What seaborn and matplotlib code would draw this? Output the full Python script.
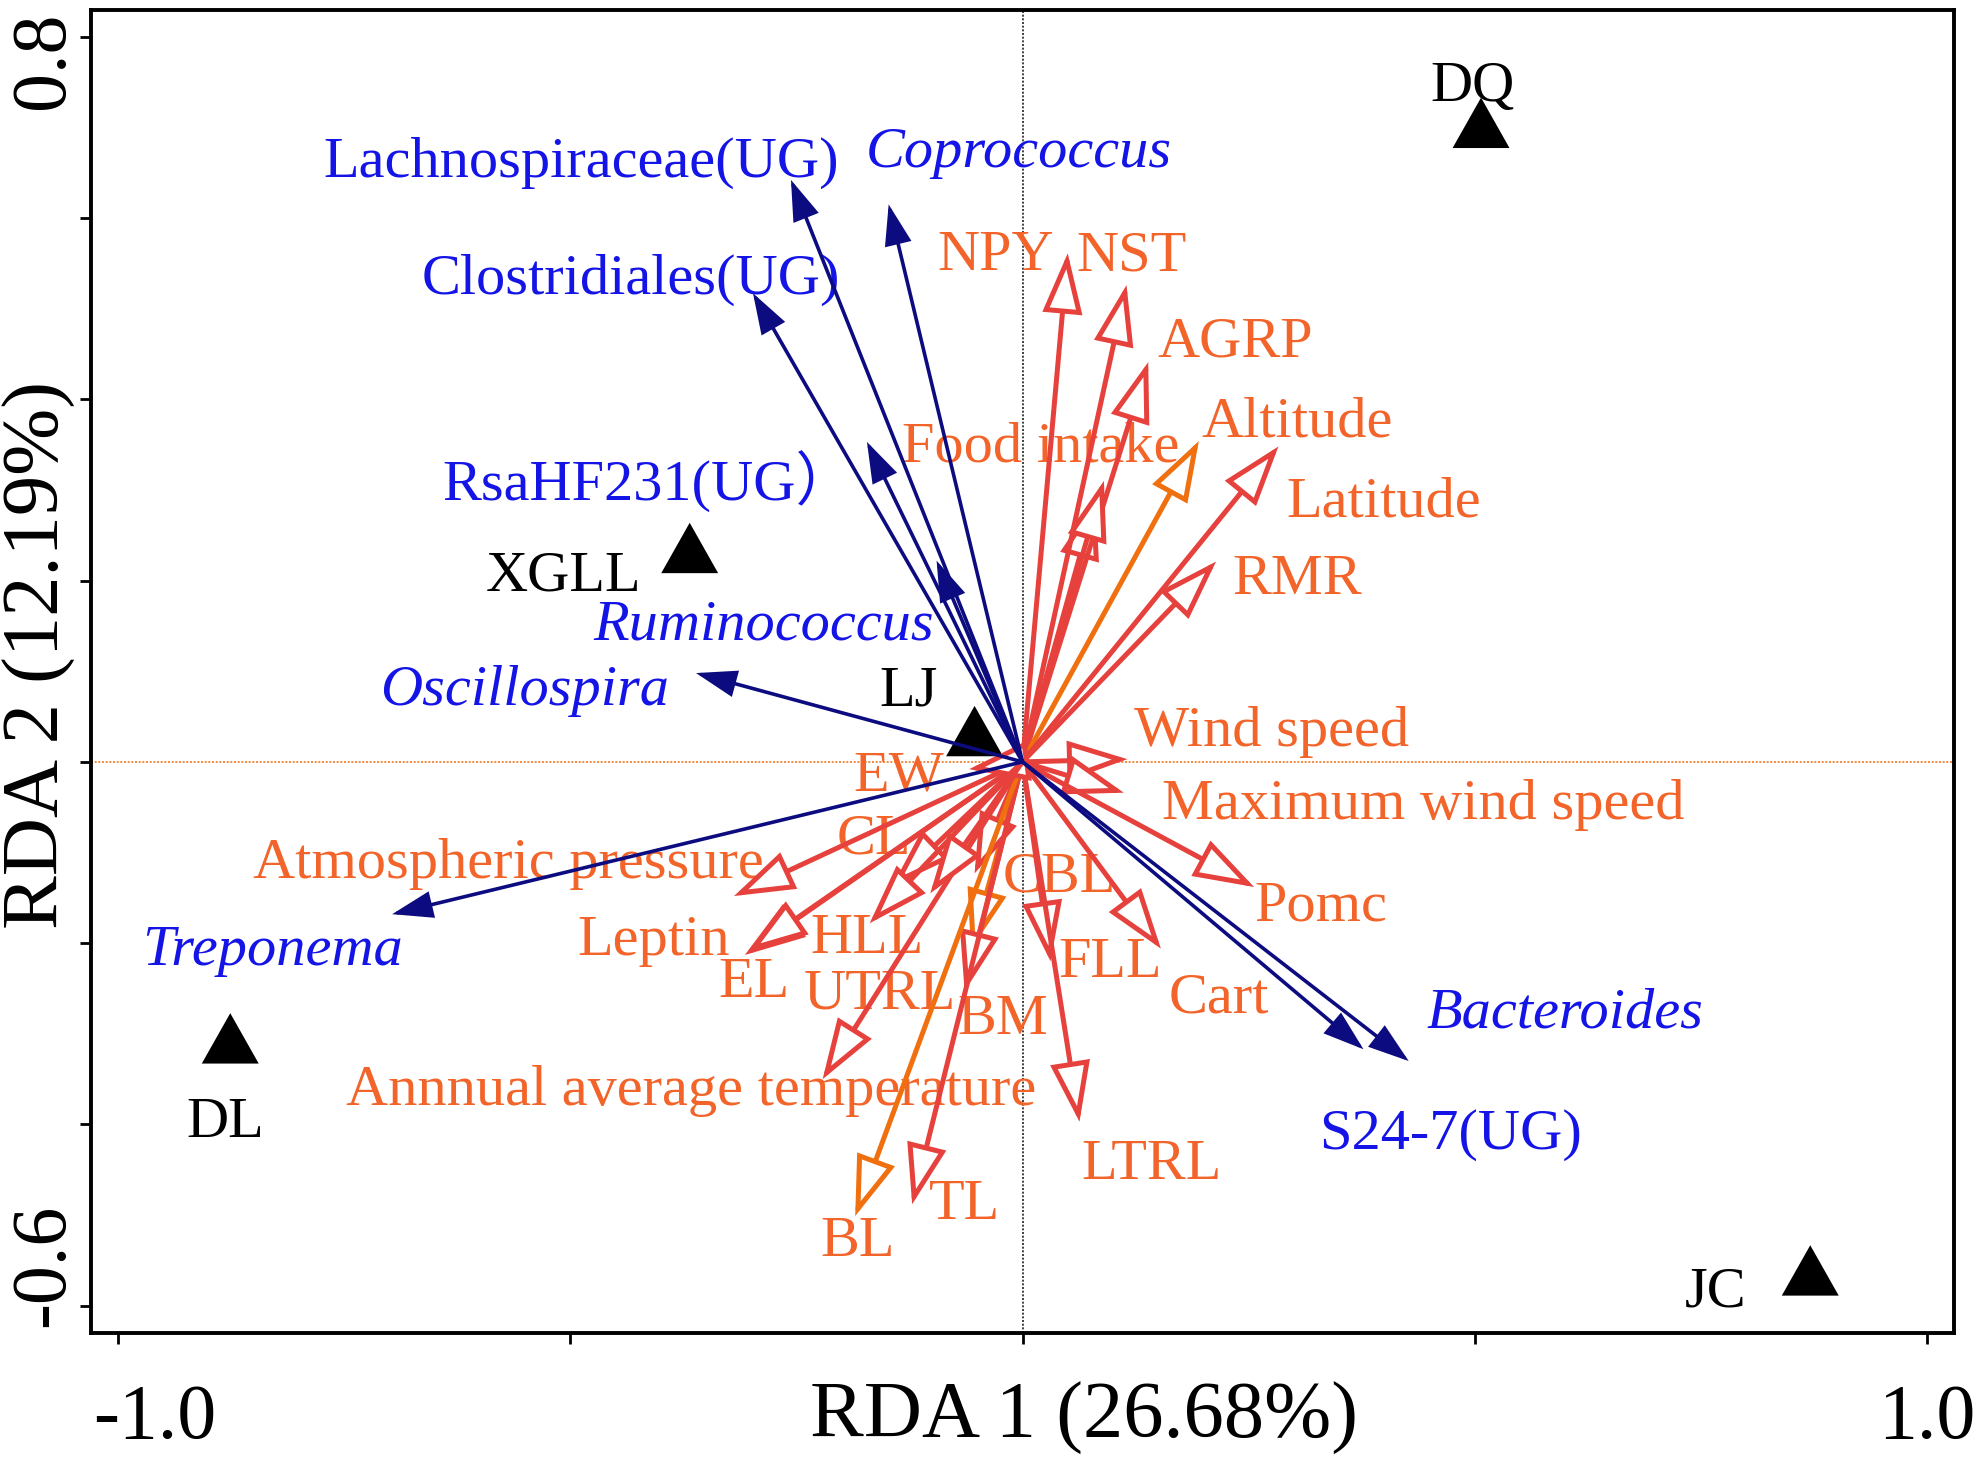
import numpy as np
import pandas as pd
import matplotlib
matplotlib.use("Agg")
import matplotlib.pyplot as plt
from matplotlib.transforms import ScaledTranslation
import seaborn as sns

# ------------------------------------------------------------------ data
site_names = ["DQ", "XGLL", "LJ", "DL", "JC"]
site_x = [0.507, -0.368, -0.053, -0.876, 0.871]
site_y = [0.705, 0.236, 0.034, -0.305, -0.561]

species_names = ["Lachnospiraceae(UG)", "Coprococcus", "Clostridiales(UG)",
                 "RsaHF231(UG\uff09", "Ruminococcus", "Oscillospira",
                 "Treponema", "Bacteroides", "S24-7(UG)"]
species_x = [-0.256, -0.148, -0.298, -0.172, -0.095, -0.361, -0.697, 0.427, 0.377]
species_y = [0.642, 0.615, 0.517, 0.353, 0.222, 0.098, -0.168, -0.330, -0.317]
species_italic = [False, True, False, False, True, True, True, True, False]

var_names = ["NPY", "NST", "AGRP", "Food intake", "Altitude", "Latitude", "RMR",
             "Wind speed", "Maximum wind speed", "Pomc", "Cart", "FLL", "LTRL",
             "BM", "CBL", "TL", "BL", "Annnual average temperature",
             "Atmospheric pressure", "Leptin", "EL", "EW", "CL", "HLL", "UTRL"]
var_x = [0.050, 0.115, 0.139, 0.090, 0.195, 0.283, 0.214,
         0.116, 0.112, 0.256, 0.153, 0.031, 0.063,
         -0.064, -0.053, -0.122, -0.185, -0.221,
         -0.319, -0.307, -0.304, -0.059, -0.144, -0.169, -0.102]
var_y = [0.561, 0.526, 0.441, 0.310, 0.354, 0.348, 0.221,
         0.003, -0.034, -0.138, -0.206, -0.220, -0.397,
         -0.253, -0.123, -0.488, -0.501, -0.350,
         -0.148, -0.213, -0.210, -0.008, -0.137, -0.178, -0.145]
var_group = ["A", "A", "A", "A", "B", "A", "A",
             "A", "A", "A", "A", "A", "A",
             "A", "A", "A", "B", "A",
             "A", "A", "A", "A", "A", "A", "A"]
# arrows drawn without a label of their own
extra_x = [0.081, -0.057]
extra_y = [0.290, -0.207]
extra_group = ["A", "B"]

x_ticks = [-1.0, -0.5, 0.0, 0.5, 1.0]
x_ticklabels = ["-1.0", "", "", "", "1.0"]
y_ticks = [-0.6, -0.4, -0.2, 0.0, 0.2, 0.4, 0.6, 0.8]
y_ticklabels = ["-0.6", "", "", "", "", "", "", "0.8"]
x_title = "RDA 1 (26.68%)"
y_title = "RDA 2 (12.19%)"

# ------------------------------------------------------------------ layout / style
label_offsets = {  # points, relative to arrow tip / site
    "Lachnospiraceae(UG)": (-75.5, 7.7), "Coprococcus": (46.9, 20.0),
    "Clostridiales(UG)": (-44.1, 6.4), "RsaHF231(UG\uff09": (-78.7, -12.7),
    "Ruminococcus": (-62.3, -21.8), "Oscillospira": (-61.9, -5.0),
    "Treponema": (-43.2, -11.8), "Bacteroides": (56.4, 18.7),
    "S24-7(UG)": (31.4, -29.1),
    "DQ": (-3.2, 14.6), "XGLL": (-45.5, -8.6), "LJ": (-23.7, 15.9),
    "DL": (-1.8, -28.7), "JC": (-34.1, -6.4),
    "NPY": (-25.9, 0.5), "NST": (1.8, 11.8), "AGRP": (31.4, 8.6),
    "Food intake": (-22.8, 13.7), "Altitude": (35.5, 8.2),
    "Latitude": (37.8, -18.7), "RMR": (29.1, -5.0), "Wind speed": (51.9, 11.4),
    "Maximum wind speed": (107.8, -2.7), "Pomc": (24.1, -5.5),
    "Cart": (20.9, -16.4), "FLL": (21.4, 0.9), "LTRL": (25.9, -14.1),
    "BM": (13.7, -8.6), "CBL": (30.5, 0.0), "TL": (18.7, 1.4), "BL": (0.9, -7.7),
    "Annnual average temperature": (-47.3, -2.7),
    "Atmospheric pressure": (-81.4, 13.2), "Leptin": (-32.8, 6.8),
    "EL": (2.3, -9.6), "EW": (-25.5, -0.9), "CL": (-6.8, 18.2),
    "HLL": (-0.9, -4.1), "UTRL": (-18.2, -35.0),
}
VA_SHIFT = -1.6  # visual centre vs. bbox centre

NAVY = "#0c0c80"
BLUE_TXT = "#1414e6"
ORANGE_TXT = "#f2642a"
group_color = {"A": "#e6413c", "B": "#f07010"}
FS = 21
SERIF = ["Liberation Serif", "Noto Sans CJK SC", "DejaVu Sans"]

sns.set_style("ticks")
plt.rcParams["font.family"] = SERIF
plt.rcParams["text.color"] = "black"
plt.rcParams["axes.labelcolor"] = "black"
plt.rcParams["axes.edgecolor"] = "black"
plt.rcParams["axes.linewidth"] = 1.4
plt.rcParams["xtick.major.width"] = 1.0
plt.rcParams["ytick.major.width"] = 1.0
plt.rcParams["xtick.color"] = "black"
plt.rcParams["ytick.color"] = "black"
plt.rcParams["xtick.labelcolor"] = "black"
plt.rcParams["ytick.labelcolor"] = "black"

fig = plt.figure(figsize=(9.91, 7.345), dpi=200)
ax = fig.add_axes([0.0459, 0.0926, 0.9400, 0.9003])
ax.set_xlim(-1.03, 1.03)
ax.set_ylim(-0.630, 0.829)

# reference lines
ax.axvline(0, color="#222222", lw=0.6, ls=(0, (1.2, 1.0)), zorder=1)
ax.axhline(0, color="#f07820", lw=0.6, ls=(0, (1.2, 1.0)), zorder=1)

# sites
sites = pd.DataFrame({"site": site_names, "RDA1": site_x, "RDA2": site_y})
tri = [(-1.0, -0.885), (1.0, -0.885), (0.0, 0.885)]
sns.scatterplot(data=sites, x="RDA1", y="RDA2", marker=tri, s=20.5 ** 2,
                color="black", edgecolor="none", linewidth=0, ax=ax,
                zorder=3, legend=False)
for n, x, y in zip(site_names, site_x, site_y):
    dx, dy = label_offsets[n]
    ax.annotate(n, xy=(x, y), xytext=(dx, dy + VA_SHIFT), textcoords="offset points",
                ha="center", va="center", fontsize=FS, color="black", zorder=2)


def arrow(x, y, ec, fc, lw, hl, hw, z):
    ax.annotate("", xy=(x, y), xytext=(0, 0), xycoords="data", textcoords="data",
                arrowprops=dict(arrowstyle=f"-|>,head_length={hl},head_width={hw}",
                                mutation_scale=1, ec=ec, fc=fc, lw=lw,
                                shrinkA=0, shrinkB=0, joinstyle="miter"),
                zorder=z)


# environmental / physiological variables (open heads)
for x, y, g in zip(extra_x, extra_y, extra_group):
    arrow(x, y, group_color[g], "white", 1.8, 18, 6, 4)
for n, x, y, g in zip(var_names, var_x, var_y, var_group):
    arrow(x, y, group_color[g], "white", 1.8, 18, 6, 4)
    dx, dy = label_offsets[n]
    ax.annotate(n, xy=(x, y), xytext=(dx, dy + VA_SHIFT), textcoords="offset points",
                ha="center", va="center", fontsize=FS, color=ORANGE_TXT, zorder=2)

# species (filled heads)
for n, x, y, it in zip(species_names, species_x, species_y, species_italic):
    arrow(x, y, NAVY, NAVY, 1.3, 12, 4, 5)
    dx, dy = label_offsets[n]
    ax.annotate(n, xy=(x, y), xytext=(dx, dy + VA_SHIFT), textcoords="offset points",
                ha="center", va="center", fontsize=FS, color=BLUE_TXT,
                style="italic" if it else "normal", family=SERIF, zorder=2)

# axes, ticks, titles
ax.set_xticks(x_ticks)
ax.set_xticklabels(x_ticklabels, fontsize=28, color="black")
ax.set_yticks(y_ticks)
ax.set_yticklabels(y_ticklabels, fontsize=28, rotation=90, va="center", color="black")
ax.tick_params(axis="x", direction="out", length=4, pad=14, colors="black")
ax.tick_params(axis="y", direction="out", length=4, pad=0, colors="black")
for s in ax.spines.values():
    s.set_visible(True)
    s.set_linewidth(1.4)
    s.set_color("black")

xl = ax.get_xticklabels()
xl[0].set_transform(xl[0].get_transform() + ScaledTranslation(13.3 / 72, 0, fig.dpi_scale_trans))
yl = ax.get_yticklabels()
yl[0].set_transform(yl[0].get_transform() + ScaledTranslation(0, 14.4 / 72, fig.dpi_scale_trans))
yl[-1].set_transform(yl[-1].get_transform() + ScaledTranslation(0, -8.6 / 72, fig.dpi_scale_trans))

ax.set_xlabel(x_title, fontsize=29, color="black")
ax.xaxis.set_label_coords(0.533, -0.0794)
ax.xaxis.label.set_va("baseline")
ax.set_ylabel(y_title, fontsize=29, color="black")
ax.yaxis.set_label_coords(-0.0274, 0.513)
ax.yaxis.label.set_va("center")

fig.savefig("out.png", dpi=200, facecolor="white")
